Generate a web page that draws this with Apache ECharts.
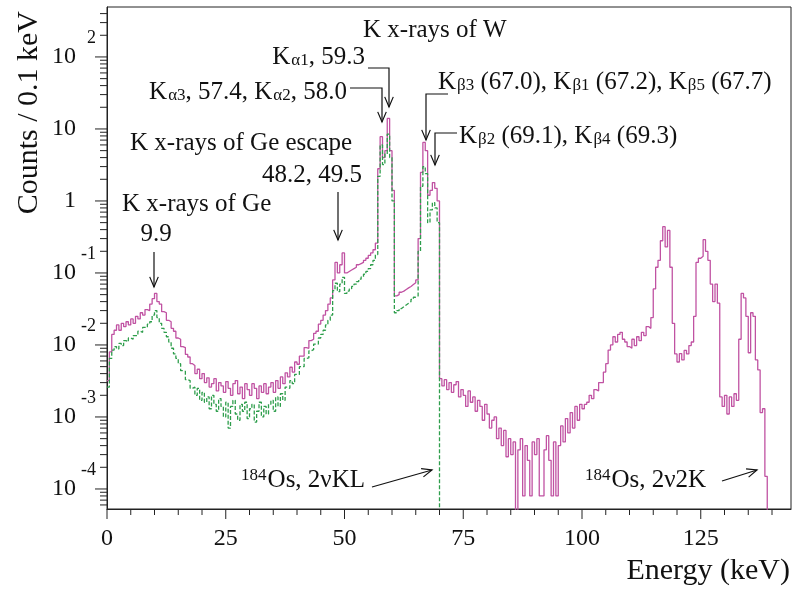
<!DOCTYPE html>
<html>
<head>
<meta charset="utf-8">
<script src="https://cdn.jsdelivr.net/npm/echarts@6/dist/echarts.min.js"></script>
<style>
html, body { margin: 0; padding: 0; background: #fff; }
#chart { width: 794px; height: 591px; }
</style>
</head>
<body>
<div id="chart"></div>
<script>
// histogram bins start at 0 keV, 0.5 keV wide
var binWidth = 0.5;

// counts / 0.1 keV, solid magenta spectrum (0 .. 139 keV)
var magentaCounts = [
    3.2e-3, 8.0e-3, 1.4e-2, 1.6e-2, 1.9e-2, 1.6e-2, 2.0e-2, 1.8e-2, 2.1e-2, 1.9e-2, // 0
    2.3e-2, 2.0e-2, 2.5e-2, 2.3e-2, 2.8e-2, 2.6e-2, 3.1e-2, 3.0e-2, 3.7e-2, 4.4e-2, // 5
    5.2e-2, 4.0e-2, 3.7e-2, 2.9e-2, 2.8e-2, 2.2e-2, 2.1e-2, 1.7e-2, 1.55e-2, 1.25e-2, // 10
    1.2e-2, 9.5e-3, 9.2e-3, 7.4e-3, 6.8e-3, 5.5e-3, 5.2e-3, 4.0e-3, 4.6e-3, 3.4e-3, // 15
    4.0e-3, 3.0e-3, 3.5e-3, 2.6e-3, 2.9e-3, 3.4e-3, 2.3e-3, 3.0e-3, 2.7e-3, 2.2e-3, // 20
    3.1e-3, 2.5e-3, 2.0e-3, 2.9e-3, 3.2e-3, 2.1e-3, 2.6e-3, 1.8e-3, 2.9e-3, 2.4e-3, // 25
    2.0e-3, 2.9e-3, 2.5e-3, 1.8e-3, 2.7e-3, 2.2e-3, 2.9e-3, 2.1e-3, 2.6e-3, 3.0e-3, // 30
    2.2e-3, 3.2e-3, 2.5e-3, 3.6e-3, 2.9e-3, 4.1e-3, 3.6e-3, 4.9e-3, 4.2e-3, 5.8e-3, // 35
    5.4e-3, 7.0e-3, 7.0e-3, 9.2e-3, 9.0e-3, 1.15e-2, 1.2e-2, 1.45e-2, 1.55e-2, 1.95e-2, // 40
    2.2e-2, 2.6e-2, 3.0e-2, 3.7e-2, 4.5e-2, 8.0e-2, 1.4e-1, 1.0e-1, 1.3e-1, 1.9e-1, // 45
    1.0e-1, 1.05e-1, 1.1e-1, 1.15e-1, 1.2e-1, 1.3e-1, 1.35e-1, 1.4e-1, 1.5e-1, 1.6e-1, // 50
    1.75e-1, 1.9e-1, 2.1e-1, 2.6e-1, 2.8, 7.8, 4.0, 5.0, 14, 5.0, // 55
    1.4, 4.8e-2, 5.0e-2, 5.4e-2, 5.6e-2, 5.9e-2, 6.2e-2, 6.5e-2, 6.9e-2, 7.3e-2, // 60
    8.0e-2, 3.0e-1, 2.5, 6.5, 5.0, 1.2, 1.4, 1.8, 1.5, 1.0, // 65
    3.4e-3, 2.7e-3, 3.3e-3, 2.4e-3, 3.0e-3, 2.2e-3, 2.8e-3, 3.1e-3, 1.9e-3, 2.4e-3, // 70
    2.0e-3, 1.4e-3, 2.3e-3, 1.6e-3, 1.9e-3, 1.2e-3, 1.7e-3, 1.4e-3, 9.0e-4, 1.5e-3, // 75
    1.1e-3, 7.0e-4, 9.0e-4, 1.0e-3, 5.0e-4, 7.0e-4, 4.0e-4, 6.5e-4, 2.8e-4, 5.0e-4, // 80
    3.0e-4, 4.5e-4, 1e-6, 3.5e-4, 5.0e-4, 8e-5, 4.0e-4, 2.5e-4, 8e-5, 4.5e-4, // 85
    3.0e-4, 5.0e-4, 8e-5, 8e-5, 3.5e-4, 5.5e-4, 2.5e-4, 8e-5, 4.5e-4, 8e-5, // 90
    4.0e-4, 7.5e-4, 4.5e-4, 9.5e-4, 6.0e-4, 1.15e-3, 7.0e-4, 1.4e-3, 9.0e-4, 1.5e-3, // 95
    1.3e-3, 1.5e-3, 1.6e-3, 2.0e-3, 1.8e-3, 2.4e-3, 2.3e-3, 3.0e-3, 3.0e-3, 4.2e-3, // 100
    5.5e-3, 8.5e-3, 1.0e-2, 1.3e-2, 1.1e-2, 1.4e-2, 1.5e-2, 1.2e-2, 1.1e-2, 9.5e-3, // 105
    9.0e-3, 1.2e-2, 9.8e-3, 1.3e-2, 1.15e-2, 1.5e-2, 1.35e-2, 1.8e-2, 1.7e-2, 2.4e-2, // 110
    6.0e-2, 1.2e-1, 1.5e-1, 2.8e-1, 4.4e-1, 2.3e-1, 3.9e-1, 1.2e-1, 2.0e-2, 7.5e-3, // 115
    5.8e-3, 7.6e-3, 6.2e-3, 8.4e-3, 7.5e-3, 9.8e-3, 1.1e-2, 2.5e-2, 1.4e-1, 1.6e-1, // 120
    1.7e-1, 2.9e-1, 2.0e-1, 1.5e-1, 7.0e-2, 4.0e-2, 7.0e-2, 3.8e-2, 1.9e-3, 1.4e-3, // 125
    2.0e-3, 1.1e-3, 1.9e-3, 1.4e-3, 2.1e-3, 1.7e-3, 1.2e-2, 5.2e-2, 4.5e-2, 2.5e-2, // 130
    7.8e-3, 2.8e-2, 2.5e-2, 6.2e-3, 4.5e-3, 1.15e-3, 1.3e-3, 1.5e-4, 1e-6           // 135
];

// counts / 0.1 keV, dashed green spectrum (0 .. 70 keV)
var greenCounts = [
    2.6e-3, 6.5e-3, 8.5e-3, 9.5e-3, 8.8e-3, 1.05e-2, 9.8e-3, 1.15e-2, 1.1e-2, 1.25e-2, // 0
    1.2e-2, 1.35e-2, 1.35e-2, 1.55e-2, 1.5e-2, 1.75e-2, 1.75e-2, 1.95e-2, 2.1e-2, 2.6e-2, // 5
    3.0e-2, 2.4e-2, 2.0e-2, 1.7e-2, 1.5e-2, 1.3e-2, 1.1e-2, 9.0e-3, 7.5e-3, 6.5e-3, // 10
    5.5e-3, 4.4e-3, 4.3e-3, 3.3e-3, 3.2e-3, 2.5e-3, 2.6e-3, 2.0e-3, 2.5e-3, 1.7e-3, // 15
    2.2e-3, 1.6e-3, 1.9e-3, 1.3e-3, 2.0e-3, 1.5e-3, 1.2e-3, 1.8e-3, 1.4e-3, 1.0e-3, // 20
    1.6e-3, 7.0e-4, 1.4e-3, 1.7e-3, 1.1e-3, 9.0e-4, 1.5e-3, 1.2e-3, 1.6e-3, 9.5e-4, // 25
    1.3e-3, 1.5e-3, 8.5e-4, 1.2e-3, 1.6e-3, 1.0e-3, 1.4e-3, 1.1e-3, 1.5e-3, 1.7e-3, // 30
    1.2e-3, 1.9e-3, 1.4e-3, 2.1e-3, 1.7e-3, 2.6e-3, 2.5e-3, 3.2e-3, 2.9e-3, 3.9e-3, // 35
    3.9e-3, 5.0e-3, 5.0e-3, 6.5e-3, 6.6e-3, 8.3e-3, 8.6e-3, 1.03e-2, 1.03e-2, 1.25e-2, // 40
    1.4e-2, 1.6e-2, 1.9e-2, 2.2e-2, 2.6e-2, 5.7e-2, 7.2e-2, 5.5e-2, 7.0e-2, 8.7e-2, // 45
    5.2e-2, 5.6e-2, 6.0e-2, 6.5e-2, 7.0e-2, 7.6e-2, 8.2e-2, 8.8e-2, 9.6e-2, 1.05e-1, // 50
    1.15e-1, 1.3e-1, 1.5e-1, 1.8e-1, 2.2, 6.0, 3.2, 4.5, 8.5, 4.0, // 55
    1.0, 2.8e-2, 3.0e-2, 3.2e-2, 3.4e-2, 3.6e-2, 3.8e-2, 4.0e-2, 4.3e-2, 4.6e-2, // 60
    4.8e-2, 2.0e-1, 1.6, 3.0, 2.4, 0.5, 0.75, 0.95, 0.8, 0.5, // 65
    1e-6 // 70
];

// axis ranges and ticks
var xMin = 0, xMax = 144;
var yMin = 5.27e-5, yMax = 494;
var xMajorTicks = [0, 25, 50, 75, 100, 125];
var xMinorTicks = [5, 10, 15, 20, 30, 35, 40, 45, 55, 60, 65, 70, 80, 85, 90, 95, 105, 110, 115, 120, 130, 135, 140];
var yMajorTicks = [1e-4, 1e-3, 1e-2, 1e-1, 1, 10, 100];
var yMinorMantissa = [2, 3, 4, 5, 6, 7, 8, 9];

var SERIF = '"Liberation Serif", "Times New Roman", serif';
var INK = '#111';
var MAGENTA = '#c052a2';
var GREEN = '#2e9e4c';

function toPairs(counts) {
    return counts.map(function(c, i) { return [i * binWidth, c]; });
}

// tick list for the custom tick series: [x, y, axis(0=x,1=y), length]
var tickData = [];
xMajorTicks.forEach(function(v) { tickData.push([v, yMin, 0, 10]); });
xMinorTicks.forEach(function(v) { tickData.push([v, yMin, 0, 6]); });
yMajorTicks.forEach(function(v) { tickData.push([xMin, v, 1, 12]); });
for (var k = -5; k <= 2; k++) {
    yMinorMantissa.forEach(function(m) {
        var v = m * Math.pow(10, k);
        if (v > yMin && v < yMax) tickData.push([xMin, v, 1, 7]);
    });
}

function renderTick(params, api) {
    var p = api.coord([api.value(0), api.value(1)]);
    var len = api.value(3);
    var shape = api.value(2) === 0 ?
        { x1: p[0], y1: p[1], x2: p[0], y2: p[1] + len } :
        { x1: p[0] - len, y1: p[1], x2: p[0], y2: p[1] };
    return { type: 'line', shape: shape, style: { stroke: '#222', lineWidth: 1 } };
}

// ROOT-style log labels: 1, 10, and 10 with a raised exponent
function yLabel(v) {
    var lg = Math.log(v) / Math.LN10;
    var e = Math.round(lg);
    if (Math.abs(lg - e) > 1e-6) return '';
    if (e === 0) return '{b|1}{p|}';
    if (e === 1) return '{b|10}{p|}';
    return '{e|' + e + '}\n{b|10}{p|}\n{z| }';
}

var dom = document.getElementById('chart');
var myChart = echarts.init(dom, null, { renderer: 'canvas' });

var option = {
    animation: false,
    backgroundColor: '#fff',
    grid: {
        left: 107, right: 2, top: 7, bottom: 82,
        show: true, borderColor: '#222', borderWidth: 1, backgroundColor: 'transparent'
    },
    xAxis: {
        type: 'value', min: xMin, max: xMax, interval: 25,
        axisLine: { lineStyle: { color: '#222', width: 1 } },
        axisTick: { show: false },
        splitLine: { show: false },
        axisLabel: {
            margin: 18, color: INK, fontFamily: SERIF, fontSize: 24,
            formatter: function(v) { return v % 25 === 0 ? String(v) : ''; }
        }
    },
    yAxis: {
        type: 'log', logBase: 10, min: yMin, max: yMax,
        axisLine: { show: true, lineStyle: { color: '#222', width: 1 } },
        axisTick: { show: false },
        splitLine: { show: false },
        axisLabel: {
            margin: 11, formatter: yLabel,
            rich: {
                b: { fontFamily: SERIF, fontSize: 24, lineHeight: 24, color: INK },
                e: { fontFamily: SERIF, fontSize: 18, lineHeight: 14, color: INK },
                p: { width: 20 },
                z: { fontSize: 10, lineHeight: 14 }
            }
        }
    },
    series: [{
        name: 'magenta', type: 'line', step: 'end', showSymbol: false,
        lineStyle: { color: MAGENTA, width: 1.3 },
        data: toPairs(magentaCounts), z: 3
    }, {
        name: 'green', type: 'line', step: 'end', showSymbol: false,
        lineStyle: { color: GREEN, width: 1.3, type: [4, 2] },
        data: toPairs(greenCounts), z: 4
    }, {
        name: 'ticks', type: 'custom', renderItem: renderTick,
        data: tickData, clip: false, silent: true, z: 5,
        encode: { x: 0, y: 1 }
    }]
};
myChart.setOption(option, true);

// annotations (pixel placement)
var rich = {
    t: { fontFamily: SERIF, fontSize: 25, lineHeight: 25, fill: INK },
    s: { fontFamily: SERIF, fontSize: 17, lineHeight: 17, fill: INK, verticalAlign: 'bottom', padding: [12, 0, 0, 1] },
    u: { fontFamily: SERIF, fontSize: 17, lineHeight: 17, fill: INK, verticalAlign: 'top', padding: [0, 1, 22, 0] }
};
var notes = [
    { x: 122, y: 204, align: 'left', text: '{t|K x-rays of Ge}' },
    { x: 156, y: 234, align: 'center', text: '{t|9.9}' },
    { x: 130, y: 143, align: 'left', text: '{t|K x-rays of Ge escape}' },
    { x: 362, y: 175, align: 'right', text: '{t|48.2, 49.5}' },
    { x: 363, y: 30, align: 'left', text: '{t|K x-rays of W}' },
    { x: 365, y: 57, align: 'right', text: '{t|K}{s|α1}{t|, 59.3}' },
    { x: 347, y: 92, align: 'right', text: '{t|K}{s|α3}{t|, 57.4, K}{s|α2}{t|, 58.0}' },
    { x: 438, y: 82, align: 'left', text: '{t|K}{s|β3}{t| (67.0), K}{s|β1}{t| (67.2), K}{s|β5}{t| (67.7)}' },
    { x: 459, y: 136, align: 'left', text: '{t|K}{s|β2}{t| (69.1), K}{s|β4}{t| (69.3)}' },
    { x: 365, y: 480, align: 'right', text: '{u|184}{t|Os, 2νKL}' },
    { x: 585, y: 480, align: 'left', text: '{u|184}{t|Os, 2ν2K}' }
];
var arrows = [
    [[154, 252], [154, 287]],
    [[338, 192], [338, 240]],
    [[368, 68], [389, 68], [389, 107]],
    [[350, 88], [382, 88], [382, 122]],
    [[448, 94], [426, 94], [426, 140]],
    [[457, 133], [435, 133], [435, 165]],
    [[372, 487], [432, 470]],
    [[722, 481], [757, 470]]
];

function arrowHead(pts) {
    var tip = pts[pts.length - 1], from = pts[pts.length - 2];
    var a = Math.atan2(tip[1] - from[1], tip[0] - from[0]);
    var L = 11, w = 0.4;
    return [
        [tip[0] - L * Math.cos(a - w), tip[1] - L * Math.sin(a - w)],
        tip,
        [tip[0] - L * Math.cos(a + w), tip[1] - L * Math.sin(a + w)]
    ];
}

var graphics = [];
notes.forEach(function(n) {
    graphics.push({
        type: 'text', x: n.x, y: n.y, silent: true,
        style: { text: n.text, rich: rich, textAlign: n.align, textVerticalAlign: 'middle',
                 fontFamily: SERIF, fontSize: 25, fill: INK }
    });
});
arrows.forEach(function(pts) {
    graphics.push({ type: 'polyline', silent: true, shape: { points: pts },
                    style: { stroke: INK, lineWidth: 1.2, fill: null } });
    graphics.push({ type: 'polyline', silent: true, shape: { points: arrowHead(pts) },
                    style: { stroke: INK, lineWidth: 1.2, fill: null } });
});
// axis titles
graphics.push({
    type: 'text', x: 29, y: 11, rotation: Math.PI / 2, silent: true,
    style: { text: 'Counts / 0.1 keV', fontFamily: SERIF, fontSize: 30, fill: INK,
             textAlign: 'right', textVerticalAlign: 'middle' }
});
graphics.push({
    type: 'text', x: 790, y: 571, silent: true,
    style: { text: 'Energy (keV)', fontFamily: SERIF, fontSize: 30, fill: INK,
             textAlign: 'right', textVerticalAlign: 'middle' }
});
myChart.setOption({ graphic: graphics });
</script>
</body>
</html>
